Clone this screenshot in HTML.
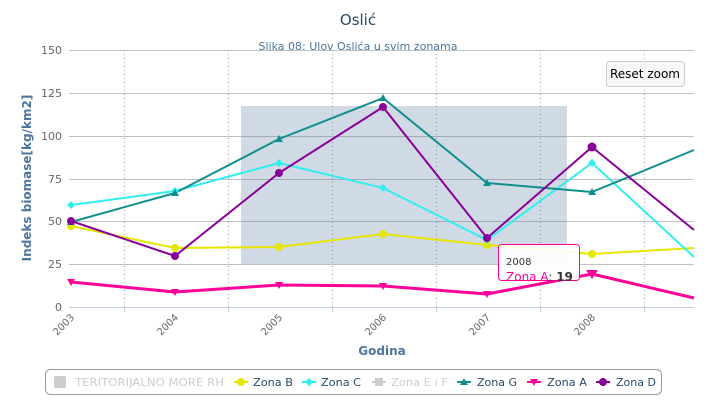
<!DOCTYPE html><html><head><meta charset="utf-8"><style>body{margin:0;background:#fff}svg{display:block;font-family:"DejaVu Sans","Liberation Sans",sans-serif}</style></head><body>
<svg width="717" height="402" viewBox="0 0 717 402">
<rect width="717" height="402" fill="#fff"/>
<text x="358" y="25" text-anchor="middle" font-size="15" fill="#274b6d">Oslić</text>
<text x="358" y="50" text-anchor="middle" font-size="11" fill="#4d759e">Slika 08: Ulov Oslića u svim zonama</text>
<g stroke="#c0c0c0" stroke-width="1">
<line x1="69" x2="694" y1="50.5" y2="50.5"/><line x1="69" x2="694" y1="93.5" y2="93.5"/><line x1="69" x2="694" y1="136.5" y2="136.5"/><line x1="69" x2="694" y1="179.5" y2="179.5"/><line x1="69" x2="694" y1="221.5" y2="221.5"/><line x1="69" x2="694" y1="264.5" y2="264.5"/>
</g>
<g stroke="#a0a0a0" stroke-dasharray="1,3"><line x1="124.5" x2="124.5" y1="50" y2="307"/><line x1="228.5" x2="228.5" y1="50" y2="307"/><line x1="332.5" x2="332.5" y1="50" y2="307"/><line x1="436.5" x2="436.5" y1="50" y2="307"/><line x1="540.5" x2="540.5" y1="50" y2="307"/><line x1="644.5" x2="644.5" y1="50" y2="307"/></g>
<line x1="69" x2="694" y1="307.5" y2="307.5" stroke="#c0d0e0"/>
<g stroke="#c0d0e0"><line x1="124.5" x2="124.5" y1="307" y2="312"/><line x1="228.5" x2="228.5" y1="307" y2="312"/><line x1="332.5" x2="332.5" y1="307" y2="312"/><line x1="436.5" x2="436.5" y1="307" y2="312"/><line x1="540.5" x2="540.5" y1="307" y2="312"/><line x1="644.5" x2="644.5" y1="307" y2="312"/></g>
<rect x="241" y="106" width="326" height="158" fill="#4d759e" opacity="0.27"/>
<g font-size="11" fill="#666" text-anchor="end"><text x="62" y="54">150</text><text x="62" y="97">125</text><text x="62" y="140">100</text><text x="62" y="183">75</text><text x="62" y="225">50</text><text x="62" y="268">25</text><text x="62" y="311">0</text></g>
<g font-size="10" fill="#666" text-anchor="end">
<text transform="translate(75,318) rotate(-45)">2003</text><text transform="translate(179,318) rotate(-45)">2004</text><text transform="translate(283,318) rotate(-45)">2005</text><text transform="translate(387,318) rotate(-45)">2006</text><text transform="translate(491,318) rotate(-45)">2007</text><text transform="translate(596,318) rotate(-45)">2008</text></g>
<text transform="translate(31,178) rotate(-90)" text-anchor="middle" font-size="12" font-weight="bold" fill="#4d759e">Indeks biomase[kg/km2]</text>
<text x="382" y="355" text-anchor="middle" font-size="12" font-weight="bold" fill="#4d759e">Godina</text>
<g fill="none" stroke-width="2" stroke-linejoin="round">
<polyline stroke="#e6e600" points="71,226 175,248 279,247 383,234 487,245 592,254 694,248"/>
<polyline stroke="#33eeee" points="71,205 175,191 279,163 383,188 487,240 592,163 694,257"/>
<polyline stroke="#118f8f" points="71,222 175,193 279,139 383,98 487,183 592,192 694,150"/>
<polyline stroke="#880099" points="71,221 175,256 279,173 383,107 487,238 592,147 694,230"/>
<polyline stroke="#ff0099" stroke-width="3" points="71,282 175,292 279,285 383,286 487,294 592,274 694,298"/>
</g>
<g fill="#e6e600"><circle cx="71" cy="226" r="4"/><circle cx="175" cy="248" r="4"/><circle cx="279" cy="247" r="4"/><circle cx="383" cy="234" r="4"/><circle cx="487" cy="245" r="4"/><circle cx="592" cy="254" r="4"/></g>
<g fill="#33eeee"><path d="M71,201l4,4-4,4-4-4z"/><path d="M175,187l4,4-4,4-4-4z"/><path d="M279,159l4,4-4,4-4-4z"/><path d="M383,184l4,4-4,4-4-4z"/><path d="M487,236l4,4-4,4-4-4z"/><path d="M592,159l4,4-4,4-4-4z"/></g>
<g fill="#118f8f"><path d="M71,218l4,7h-8z"/><path d="M175,189l4,7h-8z"/><path d="M279,135l4,7h-8z"/><path d="M383,94l4,7h-8z"/><path d="M487,179l4,7h-8z"/><path d="M592,188l4,7h-8z"/></g>
<g fill="#880099"><circle cx="71" cy="221" r="4"/><circle cx="175" cy="256" r="4"/><circle cx="279" cy="173" r="4"/><circle cx="383" cy="107" r="4"/><circle cx="487" cy="238" r="4"/><circle cx="592" cy="147" r="4.5"/></g>
<g fill="#ff0099"><path d="M67,279h8l-4,7z"/><path d="M171,289h8l-4,7z"/><path d="M275,282h8l-4,7z"/><path d="M379,283h8l-4,7z"/><path d="M483,291h8l-4,7z"/><path d="M586,270h12l-6,9z"/></g>
<rect x="498.5" y="244.5" width="81" height="36" rx="3" fill="#fff" fill-opacity="0.92" stroke="#ff0099"/>
<text x="506" y="265" font-size="10" fill="#333">2008</text>
<text x="506" y="281" font-size="12" fill="#ff0099">Zona A<tspan fill="#333">: </tspan><tspan fill="#333" font-weight="bold">19</tspan></text>
<rect x="606.5" y="61.5" width="78" height="25" rx="3" fill="#f7f7f7" stroke="#ccc"/>
<text x="645" y="78" text-anchor="middle" font-size="12" fill="#000">Reset zoom</text>
<rect x="45.5" y="369.5" width="616" height="25" rx="5" fill="#fff" stroke="#999"/>
<g font-size="11">
<rect x="54" y="376" width="12" height="12" rx="2" fill="#ccc"/><text x="75" y="386" fill="#ccc" textLength="149" lengthAdjust="spacingAndGlyphs">TERITORIJALNO MORE RH</text>
<line x1="234" x2="248" y1="382" y2="382" stroke="#e6e600" stroke-width="2"/><circle cx="241" cy="382" r="4" fill="#e6e600"/><text x="253" y="386" fill="#274b6d" textLength="40" lengthAdjust="spacingAndGlyphs">Zona B</text>
<line x1="302" x2="316" y1="382" y2="382" stroke="#33eeee" stroke-width="2"/><path d="M309,378l4,4-4,4-4-4z" fill="#33eeee"/><text x="321" y="386" fill="#274b6d" textLength="40" lengthAdjust="spacingAndGlyphs">Zona C</text>
<line x1="372" x2="386" y1="382" y2="382" stroke="#ccc" stroke-width="2"/><rect x="375" y="378" width="8" height="8" fill="#ccc"/><text x="391" y="386" fill="#ccc" textLength="57" lengthAdjust="spacingAndGlyphs">Zona E i F</text>
<line x1="457" x2="471" y1="382" y2="382" stroke="#118f8f" stroke-width="2"/><path d="M464,378l4,7h-8z" fill="#118f8f"/><text x="477" y="386" fill="#274b6d" textLength="40" lengthAdjust="spacingAndGlyphs">Zona G</text>
<line x1="527" x2="541" y1="382" y2="382" stroke="#ff0099" stroke-width="2"/><path d="M530,379h8l-4,7z" fill="#ff0099"/><text x="547" y="386" fill="#274b6d" textLength="40" lengthAdjust="spacingAndGlyphs">Zona A</text>
<line x1="596" x2="610" y1="382" y2="382" stroke="#880099" stroke-width="2"/><circle cx="603" cy="382" r="4" fill="#880099"/><text x="616" y="386" fill="#274b6d" textLength="40" lengthAdjust="spacingAndGlyphs">Zona D</text>
</g>
</svg></body></html>
